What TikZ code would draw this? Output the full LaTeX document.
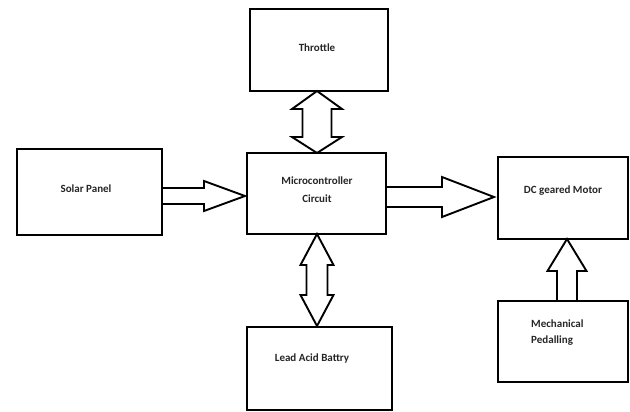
\documentclass[tikz,border=0pt]{standalone}
\usepackage{fontspec}
\setmainfont{Carlito}
\begin{document}
\begin{tikzpicture}[x=1pt,y=-1pt,
  blk/.style={draw=black,line width=1.4pt,fill=white},
  barrow/.style={draw=black,line width=1.9pt,fill=white,line join=miter},
  lbl/.style={font=\bfseries\fontsize{11}{13}\selectfont,text=black!85,inner sep=0pt,align=center}]
\useasboundingbox (0,0) rectangle (630,412);
% boxes
\draw[blk] (250,9) rectangle (388,91);
\draw[blk] (247,153) rectangle (386,234);
\draw[blk] (17,149) rectangle (162,235);
\draw[blk] (498,157) rectangle (628,239);
\draw[blk] (498,301) rectangle (628,382);
\draw[blk] (247,327) rectangle (392,410);
% labels
\node[lbl] (throttle) at (317,48) {Throttle};
\node[lbl] (micro) at (317,190) {Microcontroller\\[5pt]Circuit};
\node[lbl] (solar) at (86,189) {Solar Panel};
\node[lbl] (dc) at (563,191) {DC geared Motor};
\node[lbl,anchor=west,align=left] (pedal) at (531,333) {Mechanical\\[3pt]Pedalling};
\node[lbl] (battery) at (312,359) {Lead Acid Battry};
% solar -> micro
\draw[barrow] (162,188) -- (204,188) -- (204,181) -- (245,196) -- (204,211) -- (204,204) -- (162,204) -- cycle;
% micro -> dc
\draw[barrow] (386,187) -- (442,187) -- (442,177) -- (494,197) -- (442,217) -- (442,207) -- (386,207) -- cycle;
% throttle <-> micro
\draw[barrow] (317,91) -- (342,109) -- (331.5,109) -- (331.5,137) -- (342,137) -- (317,153) -- (292,137) -- (302.5,137) -- (302.5,109) -- (292,109) -- cycle;
% micro <-> battery
\draw[barrow] (317,234) -- (333.5,265) -- (327.5,265) -- (327.5,295) -- (333.5,295) -- (317,326) -- (300.5,295) -- (306.5,295) -- (306.5,265) -- (300.5,265) -- cycle;
% pedal -> dc
\draw[barrow] (567,239) -- (586.5,271) -- (577,271) -- (577,301) -- (557,301) -- (557,271) -- (547.5,271) -- cycle;
\end{tikzpicture}
\end{document}
